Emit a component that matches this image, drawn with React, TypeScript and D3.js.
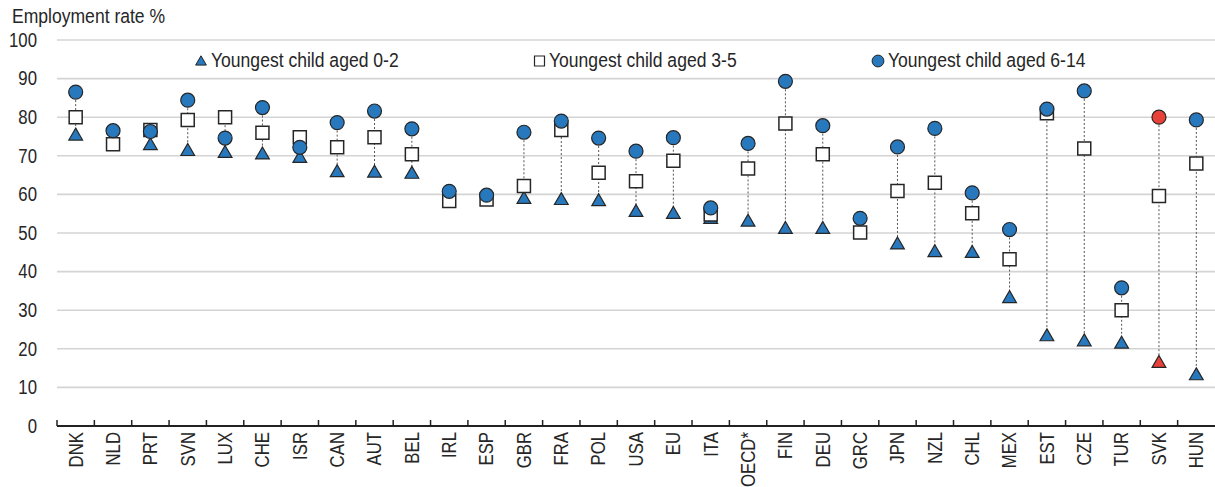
import React from 'react'
import * as d3 from 'd3'

const W = 1215, H = 487
const margin = { top: 40, right: 0, bottom: 61, left: 57 }

const countries = ['DNK', 'NLD', 'PRT', 'SVN', 'LUX', 'CHE', 'ISR', 'CAN', 'AUT', 'BEL',
  'IRL', 'ESP', 'GBR', 'FRA', 'POL', 'USA', 'EU', 'ITA', 'OECD*', 'FIN',
  'DEU', 'GRC', 'JPN', 'NZL', 'CHL', 'MEX', 'EST', 'CZE', 'TUR', 'SVK', 'HUN']

// youngest child aged 0-2 (null = hidden behind the other markers)
const aged0to2 = [75.5, null, 73, 71.5, 71, 70.6, 69.7, 66, 65.9, 65.6,
  null, null, 59.1, 58.8, 58.5, 55.7, 55.2, 53.9, 53.2, 51.3,
  51.3, null, 47.3, 45.3, 45.1, 33.4, 23.5, 22.2, 21.6, 16.6, 13.4]
const aged3to5 = [80, 73, 76.7, 79.3, 80, 76, 74.8, 72.2, 74.8, 70.4,
  58.3, 58.7, 62.2, 76.7, 65.6, 63.4, 68.7, 54.8, 66.7, 78.4,
  70.4, 50.1, 60.9, 63, 55.1, 43.2, 81, 71.9, 30, 59.6, 68]
const aged6to14 = [86.5, 76.5, 76.3, 84.4, 74.6, 82.5, 72.2, 78.6, 81.6, 77,
  60.8, 59.8, 76.1, 79, 74.6, 71.2, 74.7, 56.5, 73.2, 89.3,
  77.8, 53.8, 72.3, 77.1, 60.4, 50.9, 82.1, 86.8, 35.8, 80, 79.3]
const yTicks = [0, 10, 20, 30, 40, 50, 60, 70, 80, 90, 100]
const highlight = 'SVK'

const BLUE = '#2878be'
const RED = '#e8413a'
const INK = '#262626'
const FONT = '"Liberation Sans", Arial, sans-serif'
const FS = 19.5
const NARROW = 0.9 // the reference uses a condensed face

const tri = d3.symbol().type(d3.symbolTriangle).size(82)()
const sq = d3.symbol().type(d3.symbolSquare).size(169)()
const circ = d3.symbol().type(d3.symbolCircle).size(154)()
const triLegend = d3.symbol().type(d3.symbolTriangle).size(50)()
const sqLegend = d3.symbol().type(d3.symbolSquare).size(100)()
const circLegend = d3.symbol().type(d3.symbolCircle).size(110)()

// narrow text helper
const T = (props: { x: number, y: number, rot?: number, anchor?: string, dy?: string, sx?: number, children: any }) => (
  <g transform={`translate(${props.x},${props.y})${props.rot ? ` rotate(${props.rot})` : ''} scale(${props.sx || NARROW},1)`}>
    <text textAnchor={props.anchor || 'start'} dy={props.dy} fontSize={FS} fill={INK}>{props.children}</text>
  </g>
)

export default function App() {
  const x = d3.scaleBand().domain(countries).range([margin.left, W - margin.right])
  const y = d3.scaleLinear().domain([0, 100]).range([H - margin.bottom, margin.top])
  const cx = (c: string) => (x(c) as number) + x.bandwidth() / 2

  const rows = countries.map((c, i) => ({
    c, a: aged0to2[i], b: aged3to5[i], d: aged6to14[i],
  }))

  return (
    <svg width={W} height={H} style={{ position: 'absolute', left: 0, top: 0, fontFamily: FONT }}>
      <T x={12} y={23}>Employment rate %</T>

      {yTicks.map(t => (
        <g key={t}>
          {t > 0 && <line x1={margin.left} x2={W} y1={y(t)} y2={y(t)} stroke="#d4d4d4" strokeWidth={1.6} />}
          <T x={37} y={y(t)} anchor="end" dy="0.35em" sx={0.86}>{t}</T>
        </g>
      ))}

      {/* legend */}
      <path d={triLegend} transform="translate(201,62)" fill={BLUE} stroke={INK} strokeWidth={1} />
      <T x={211} y={67}>Youngest child aged 0-2</T>
      <path d={sqLegend} transform="translate(539.5,61)" fill="#fff" stroke={INK} strokeWidth={1.2} />
      <T x={549} y={67}>Youngest child aged 3-5</T>
      <path d={circLegend} transform="translate(878,61)" fill={BLUE} stroke={INK} strokeWidth={1} />
      <T x={888} y={67}>Youngest child aged 6-14</T>

      {/* dotted connectors */}
      {rows.map(r => {
        const vals = [r.a, r.b, r.d].filter(v => v != null) as number[]
        return (
          <line key={r.c} x1={cx(r.c)} x2={cx(r.c)} y1={y(d3.max(vals)!)} y2={y(d3.min(vals)!)}
            stroke="#555" strokeWidth={1} strokeDasharray="2,2" />
        )
      })}

      {rows.filter(r => r.a != null).map(r => (
        <path key={'a' + r.c} d={tri} transform={`translate(${cx(r.c)},${y(r.a as number) + 1.5})`}
          fill={r.c === highlight ? RED : BLUE} stroke={INK} strokeWidth={1.2} />
      ))}
      {rows.map(r => (
        <path key={'b' + r.c} d={sq} transform={`translate(${cx(r.c)},${y(r.b)})`}
          fill="#fff" stroke={INK} strokeWidth={1.5} />
      ))}
      {rows.map(r => (
        <path key={'d' + r.c} d={circ} transform={`translate(${cx(r.c)},${y(r.d)})`}
          fill={r.c === highlight ? RED : BLUE} stroke={INK} strokeWidth={1.2} />
      ))}

      {/* x axis */}
      <line x1={margin.left} x2={W} y1={y(0)} y2={y(0)} stroke="#222" strokeWidth={2} />
      {countries.map(c => (
        <line key={'t' + c} x1={x(c)} x2={x(c)} y1={y(0)} y2={y(0) - 6} stroke="#222" strokeWidth={1.5} />
      ))}
      {countries.map(c => (
        <T key={'l' + c} x={cx(c)} y={y(0) + 6} rot={-90} anchor="end" dy="0.35em" sx={0.86}>{c}</T>
      ))}
    </svg>
  )
}
